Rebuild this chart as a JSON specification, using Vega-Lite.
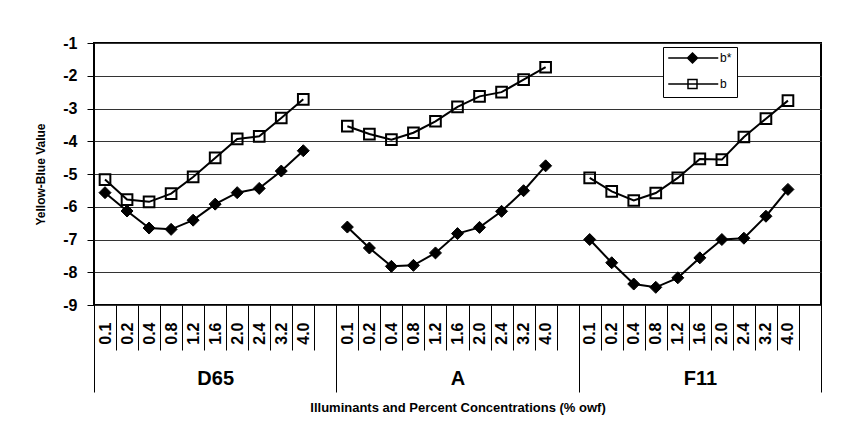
{
  "$schema": "https://vega.github.io/schema/vega-lite/v6.json",
  "width": 727,
  "height": 262,
  "autosize": {"type": "none"},
  "padding": {"left": 94, "top": 43, "right": 22, "bottom": 143},
  "background": "white",
  "config": {"font": "Liberation Sans", "view": {"stroke": "black", "strokeWidth": 2}},
  "data": {"values": [
    {"g": "D65", "c": "0.1", "k": "D65 0.1", "s": "b*", "v": -5.57},
    {"g": "D65", "c": "0.2", "k": "D65 0.2", "s": "b*", "v": -6.13},
    {"g": "D65", "c": "0.4", "k": "D65 0.4", "s": "b*", "v": -6.65},
    {"g": "D65", "c": "0.8", "k": "D65 0.8", "s": "b*", "v": -6.69},
    {"g": "D65", "c": "1.2", "k": "D65 1.2", "s": "b*", "v": -6.41},
    {"g": "D65", "c": "1.6", "k": "D65 1.6", "s": "b*", "v": -5.92},
    {"g": "D65", "c": "2.0", "k": "D65 2.0", "s": "b*", "v": -5.57},
    {"g": "D65", "c": "2.4", "k": "D65 2.4", "s": "b*", "v": -5.44},
    {"g": "D65", "c": "3.2", "k": "D65 3.2", "s": "b*", "v": -4.91},
    {"g": "D65", "c": "4.0", "k": "D65 4.0", "s": "b*", "v": -4.29},
    {"g": "D65", "c": "0.1", "k": "D65 0.1", "s": "b", "v": -5.17},
    {"g": "D65", "c": "0.2", "k": "D65 0.2", "s": "b", "v": -5.78},
    {"g": "D65", "c": "0.4", "k": "D65 0.4", "s": "b", "v": -5.85},
    {"g": "D65", "c": "0.8", "k": "D65 0.8", "s": "b", "v": -5.6},
    {"g": "D65", "c": "1.2", "k": "D65 1.2", "s": "b", "v": -5.09},
    {"g": "D65", "c": "1.6", "k": "D65 1.6", "s": "b", "v": -4.51},
    {"g": "D65", "c": "2.0", "k": "D65 2.0", "s": "b", "v": -3.93},
    {"g": "D65", "c": "2.4", "k": "D65 2.4", "s": "b", "v": -3.85},
    {"g": "D65", "c": "3.2", "k": "D65 3.2", "s": "b", "v": -3.29},
    {"g": "D65", "c": "4.0", "k": "D65 4.0", "s": "b", "v": -2.72},
    {"g": "A", "c": "0.1", "k": "A 0.1", "s": "b*", "v": -6.62},
    {"g": "A", "c": "0.2", "k": "A 0.2", "s": "b*", "v": -7.26},
    {"g": "A", "c": "0.4", "k": "A 0.4", "s": "b*", "v": -7.82},
    {"g": "A", "c": "0.8", "k": "A 0.8", "s": "b*", "v": -7.79},
    {"g": "A", "c": "1.2", "k": "A 1.2", "s": "b*", "v": -7.41},
    {"g": "A", "c": "1.6", "k": "A 1.6", "s": "b*", "v": -6.82},
    {"g": "A", "c": "2.0", "k": "A 2.0", "s": "b*", "v": -6.63},
    {"g": "A", "c": "2.4", "k": "A 2.4", "s": "b*", "v": -6.14},
    {"g": "A", "c": "3.2", "k": "A 3.2", "s": "b*", "v": -5.51},
    {"g": "A", "c": "4.0", "k": "A 4.0", "s": "b*", "v": -4.75},
    {"g": "A", "c": "0.1", "k": "A 0.1", "s": "b", "v": -3.54},
    {"g": "A", "c": "0.2", "k": "A 0.2", "s": "b", "v": -3.78},
    {"g": "A", "c": "0.4", "k": "A 0.4", "s": "b", "v": -3.95},
    {"g": "A", "c": "0.8", "k": "A 0.8", "s": "b", "v": -3.74},
    {"g": "A", "c": "1.2", "k": "A 1.2", "s": "b", "v": -3.39},
    {"g": "A", "c": "1.6", "k": "A 1.6", "s": "b", "v": -2.95},
    {"g": "A", "c": "2.0", "k": "A 2.0", "s": "b", "v": -2.63},
    {"g": "A", "c": "2.4", "k": "A 2.4", "s": "b", "v": -2.5},
    {"g": "A", "c": "3.2", "k": "A 3.2", "s": "b", "v": -2.12},
    {"g": "A", "c": "4.0", "k": "A 4.0", "s": "b", "v": -1.74},
    {"g": "F11", "c": "0.1", "k": "F11 0.1", "s": "b*", "v": -7.0},
    {"g": "F11", "c": "0.2", "k": "F11 0.2", "s": "b*", "v": -7.71},
    {"g": "F11", "c": "0.4", "k": "F11 0.4", "s": "b*", "v": -8.36},
    {"g": "F11", "c": "0.8", "k": "F11 0.8", "s": "b*", "v": -8.46},
    {"g": "F11", "c": "1.2", "k": "F11 1.2", "s": "b*", "v": -8.17},
    {"g": "F11", "c": "1.6", "k": "F11 1.6", "s": "b*", "v": -7.56},
    {"g": "F11", "c": "2.0", "k": "F11 2.0", "s": "b*", "v": -7.0},
    {"g": "F11", "c": "2.4", "k": "F11 2.4", "s": "b*", "v": -6.96},
    {"g": "F11", "c": "3.2", "k": "F11 3.2", "s": "b*", "v": -6.29},
    {"g": "F11", "c": "4.0", "k": "F11 4.0", "s": "b*", "v": -5.47},
    {"g": "F11", "c": "0.1", "k": "F11 0.1", "s": "b", "v": -5.12},
    {"g": "F11", "c": "0.2", "k": "F11 0.2", "s": "b", "v": -5.53},
    {"g": "F11", "c": "0.4", "k": "F11 0.4", "s": "b", "v": -5.81},
    {"g": "F11", "c": "0.8", "k": "F11 0.8", "s": "b", "v": -5.58},
    {"g": "F11", "c": "1.2", "k": "F11 1.2", "s": "b", "v": -5.12},
    {"g": "F11", "c": "1.6", "k": "F11 1.6", "s": "b", "v": -4.54},
    {"g": "F11", "c": "2.0", "k": "F11 2.0", "s": "b", "v": -4.56},
    {"g": "F11", "c": "2.4", "k": "F11 2.4", "s": "b", "v": -3.87},
    {"g": "F11", "c": "3.2", "k": "F11 3.2", "s": "b", "v": -3.31},
    {"g": "F11", "c": "4.0", "k": "F11 4.0", "s": "b", "v": -2.76}
  ]},
  "layer": [
    {
      "encoding": {
        "x": {
          "field": "k", "type": "nominal",
          "scale": {"type": "band", "paddingInner": 0, "paddingOuter": 0, "domain": [
            "D65 0.1","D65 0.2","D65 0.4","D65 0.8","D65 1.2","D65 1.6","D65 2.0","D65 2.4","D65 3.2","D65 4.0","D65 ",
            "A 0.1","A 0.2","A 0.4","A 0.8","A 1.2","A 1.6","A 2.0","A 2.4","A 3.2","A 4.0","A ",
            "F11 0.1","F11 0.2","F11 0.4","F11 0.8","F11 1.2","F11 1.6","F11 2.0","F11 2.4","F11 3.2","F11 4.0","F11 "]},
          "axis": {
            "orient": "bottom",
            "title": null, "domain": false, "grid": false,
            "tickBand": "extent", "ticks": true, "tickSize": 45, "tickColor": "black", "tickWidth": 1,
            "labelExpr": "split(datum.value, ' ')[1]",
            "labelAngle": 270, "labelPadding": -28, "labelOverlap": false, "labelBound": false,
            "labelFontSize": 16, "labelFontWeight": "bold", "labelColor": "black"
          }
        },
        "y": {
          "field": "v", "type": "quantitative",
          "scale": {"domain": [-9, -1], "nice": false, "zero": false},
          "axis": {
            "values": [-9, -8, -7, -6, -5, -4, -3, -2, -1],
            "labelExpr": "'' + datum.value", "labelOverlap": false,
            "title": "Yellow-Blue Value", "titleFontSize": 12, "titleFontWeight": "bold", "titleColor": "black", "titlePadding": 15,
            "labelFontSize": 16, "labelFontWeight": "bold", "labelColor": "black", "labelPadding": 10,
            "tickSize": 7, "tickColor": "black", "domain": false,
            "grid": true, "gridColor": "#333333", "gridWidth": 1
          }
        }
      },
      "layer": [
        {
          "mark": {"type": "line", "color": "black", "strokeWidth": 2},
          "encoding": {
            "detail": [{"field": "g"}, {"field": "s"}],
            "order": {"field": "c", "type": "quantitative"}
          }
        },
        {
          "transform": [{"filter": "datum.s === 'b*'"}],
          "mark": {"type": "point", "shape": "diamond", "filled": true, "stroke": "black", "strokeWidth": 1, "size": 144, "opacity": 1},
          "encoding": {
            "fill": {
              "field": "s", "type": "nominal",
              "scale": {"domain": ["b*", "b"], "range": ["black", "transparent"]},
              "legend": {
                "title": null, "orient": "none", "legendX": 569, "legendY": 4,
                "strokeColor": "black", "fillColor": "white", "padding": 5,
                "symbolType": {"expr": "datum.value === 'b*' ? 'M-1.15,0H8.85M3.7,-1L4.7,0L3.7,1L2.7,0Z' : 'M-1.15,0H8.85M2.8,-0.9H4.6V0.9H2.8Z'"},
                "symbolSize": 100, "symbolStrokeWidth": 1.5, "symbolStrokeColor": "black",
                "labelOffset": 40, "rowPadding": 10,
                "labelFontSize": 12, "labelColor": "black"
              }
            }
          }
        },
        {
          "transform": [{"filter": "datum.s === 'b'"}],
          "mark": {"type": "point", "shape": "square", "filled": true, "stroke": "black", "strokeWidth": 2, "size": 114, "opacity": 1},
          "encoding": {
            "fill": {"field": "s", "type": "nominal"}
          }
        }
      ]
    },
    {
      "mark": {"type": "point", "opacity": 0},
      "encoding": {
        "x": {
          "field": "g", "type": "nominal",
          "scale": {"type": "band", "domain": ["D65", "A", "F11"], "paddingInner": 0, "paddingOuter": 0},
          "axis": {
            "orient": "bottom",
            "title": "Illuminants and Percent Concentrations (% owf)",
            "titleFontSize": 13, "titleFontWeight": "bold", "titleColor": "black", "titlePadding": 9,
            "domain": false, "grid": false,
            "tickBand": "extent", "tickSize": 87, "tickColor": "black", "tickWidth": 1,
            "labelAngle": 0, "labelPadding": -24, "labelFontSize": 20, "labelFontWeight": "bold", "labelColor": "black"
          }
        }
      }
    }
  ],
  "resolve": {"scale": {"x": "independent"}}
}
